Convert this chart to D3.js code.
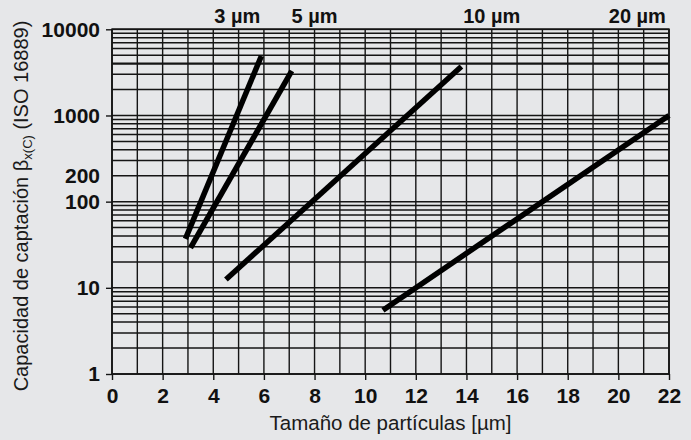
<!DOCTYPE html>
<html>
<head>
<meta charset="utf-8">
<script src="https://cdn.jsdelivr.net/npm/d3@7"></script>
<style>
  html, body { margin: 0; padding: 0; background: #e6e7e9; }
  svg { display: block; font-family: "Liberation Sans", Arial, sans-serif; }
</style>
</head>
<body>
<svg id="chart" width="691" height="440"></svg>
<script>
// Particle size axis (µm) and capture ratio axis (log scale)
const xTickValues = [0, 2, 4, 6, 8, 10, 12, 14, 16, 18, 20, 22];
const yTickValues = [1, 10, 100, 200, 1000, 10000];

// One straight line per filter rating: start and end points (size, beta)
const ratings   = ["3 µm", "5 µm", "10 µm", "20 µm"];
const sizeStart = [2.9, 3.1, 4.5, 10.7];
const betaStart = [37, 29, 12.5, 5.5];
const sizeEnd   = [5.9, 7.1, 13.8, 22];
const betaEnd   = [4900, 3300, 3700, 1000];
// Particle size above which each rating label is centred
const ratingLabelAt = [4.95, 8.0, 15.0, 20.75];

(function draw() {
  const svg = d3.select("#chart");
  const plotL = 112, plotR = 669, plotT = 29.3, plotB = 374;

  const x = d3.scaleLinear().domain([0, 22]).range([plotL, plotR]);
  const y = d3.scaleLog().domain([1, 10000]).range([plotB, plotT]);

  const ink = "#151515";

  // Grid: one vertical line per micron, log minor lines per decade
  const grid = svg.append("g").attr("stroke", ink).attr("stroke-width", 1.4);
  grid.selectAll("line.v")
    .data(d3.range(0, 23))
    .join("line")
    .attr("class", "v")
    .attr("x1", d => x(d)).attr("x2", d => x(d))
    .attr("y1", plotT).attr("y2", plotB);

  const hValues = [];
  [1, 10, 100, 1000].forEach(dec => { for (let k = 1; k <= 9; k++) hValues.push(k * dec); });
  hValues.push(10000);
  grid.selectAll("line.h")
    .data(hValues)
    .join("line")
    .attr("class", "h")
    .attr("x1", plotL).attr("x2", plotR)
    .attr("y1", d => y(d)).attr("y2", d => y(d))
    .attr("stroke-width", d => (d === 4000) ? 2.4 : 1.5);

  // Outer frame
  svg.append("rect")
    .attr("x", plotL).attr("y", plotT)
    .attr("width", plotR - plotL).attr("height", plotB - plotT)
    .attr("fill", "none").attr("stroke", ink).attr("stroke-width", 1.7);

  // Axes
  const yAxis = svg.append("g")
    .attr("transform", `translate(${plotL},0)`)
    .call(d3.axisLeft(y).tickValues(yTickValues).tickFormat(d3.format("d")).tickSize(6).tickPadding(6));
  const xAxis = svg.append("g")
    .attr("transform", `translate(0,${plotB})`)
    .call(d3.axisBottom(x).tickValues(xTickValues).tickFormat(d3.format("d")).tickSize(6).tickPadding(8));

  [yAxis, xAxis].forEach(g => {
    g.select(".domain").remove();
    g.selectAll(".tick line").attr("stroke", ink).attr("stroke-width", 1.4);
    g.selectAll(".tick text")
      .attr("fill", "#111")
      .style("font-family", '"Liberation Sans", Arial, sans-serif')
      .style("font-weight", "bold")
      .style("font-size", "21px");
  });
  yAxis.selectAll(".tick").filter(d => d === 200).select("line").remove();

  // Rating lines
  const lines = ratings.map((r, i) => ({
    name: r,
    pts: [[sizeStart[i], betaStart[i]], [sizeEnd[i], betaEnd[i]]]
  }));
  const lineGen = d3.line().x(d => x(d[0])).y(d => y(d[1]));
  svg.append("g")
    .selectAll("path")
    .data(lines)
    .join("path")
    .attr("d", d => lineGen(d.pts))
    .attr("fill", "none")
    .attr("stroke", "#000")
    .attr("stroke-width", 5.5)
    .attr("stroke-linecap", "butt");

  // Rating labels above the frame
  svg.append("g")
    .selectAll("text")
    .data(ratings)
    .join("text")
    .attr("x", (d, i) => x(ratingLabelAt[i]))
    .attr("y", 23)
    .attr("text-anchor", "middle")
    .attr("fill", "#111")
    .style("font-weight", "bold")
    .style("font-size", "20px")
    .text(d => d);

  // Axis titles
  svg.append("text")
    .attr("x", (plotL + plotR) / 2)
    .attr("y", 430)
    .attr("text-anchor", "middle")
    .attr("fill", "#1a1a1a")
    .style("font-size", "20.5px")
    .text("Tamaño de partículas [µm]");

  const yt = svg.append("text")
    .attr("transform", "translate(28,206) rotate(-90)")
    .attr("text-anchor", "middle")
    .attr("fill", "#1a1a1a")
    .style("font-size", "20px");
  yt.append("tspan").text("Capacidad de captación β");
  yt.append("tspan").attr("dy", 4).style("font-size", "13px").text("x(C)");
  yt.append("tspan").attr("dy", -4).text(" (ISO 16889)");
})();
</script>
</body>
</html>
